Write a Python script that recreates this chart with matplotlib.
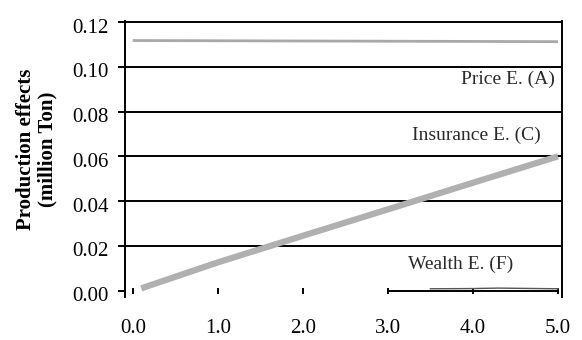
import matplotlib.pyplot as plt
from matplotlib.transforms import ScaledTranslation

plt.rcParams['font.family'] = ['Liberation Serif', 'DejaVu Serif']

# production effects (million ton) against the x factor
x_price = [0.0, 5.0]
price_effect = [0.1118, 0.1113]

x_insurance = [0.1, 1.0, 2.0, 3.0, 4.0, 5.0]
insurance_effect = [0.001, 0.0126, 0.0245, 0.0363, 0.0482, 0.0600]

x_wealth = [3.5, 4.0, 4.3, 5.0]
wealth_effect = [0.0008, 0.0009, 0.0011, 0.0008]

y_ticks = [0.00, 0.02, 0.04, 0.06, 0.08, 0.10, 0.12]
x_ticks = [0.0, 1.0, 2.0, 3.0, 4.0, 5.0]

fig = plt.figure(figsize=(5.82, 3.4), dpi=100)
ax = fig.add_axes([0.215, 0.127, 0.751, 0.811])

ax.plot(x_price, price_effect, color='#a8a8a8', lw=2.0, solid_capstyle='butt')
ax.plot(x_insurance, insurance_effect, color='#b0b0b0', lw=4.5, solid_capstyle='butt')
ax.plot(x_wealth, wealth_effect, color='#555555', lw=1.0)

ax.set_xlim(-0.09, 5.05)
ax.set_ylim(-0.0028, 0.1205)
ax.set_yticks(y_ticks)
ax.set_yticklabels([f'{v:.2f}' for v in y_ticks])
ax.set_xticks(x_ticks)
ax.set_xticklabels([f'{v:.1f}' for v in x_ticks])

for y in y_ticks[1:]:
    ax.axhline(y, color='black', lw=1.4, zorder=0)

ax.spines['top'].set_visible(False)
ax.spines['right'].set_linewidth(1.4)
ax.spines['left'].set_linewidth(1.4)
ax.spines['bottom'].set_position(('data', 0))
ax.spines['bottom'].set_bounds(3.0, 5.0)
ax.spines['bottom'].set_linewidth(1.4)

ax.tick_params(axis='y', direction='out', length=5, width=1.4, pad=7,
               labelsize=15, colors='black')
ax.tick_params(axis='x', direction='inout', length=5, width=1.4, pad=18,
               labelsize=15)

# nudge the y tick labels a little below their gridlines
shift = ScaledTranslation(0, -2.5 / 72, fig.dpi_scale_trans)
for lbl in ax.get_yticklabels():
    lbl.set_transform(lbl.get_transform() + shift)

ax.text(4.96, 0.0945, 'Price E. (A)', fontsize=14, ha='right', va='center', color='#2a2a2a')
ax.text(4.8, 0.0693, 'Insurance E. (C)', fontsize=14, ha='right', va='center', color='#2a2a2a')
ax.text(3.86, 0.0115, 'Wealth E. (F)', fontsize=14, ha='center', va='center', color='#2a2a2a')

fig.text(0.063, 0.56, 'Production effects\n(million Ton)', rotation=90,
         fontsize=15, fontweight='bold', ha='center', va='center',
         linespacing=1.1)

fig.savefig('out.png', dpi=100, facecolor='white')
